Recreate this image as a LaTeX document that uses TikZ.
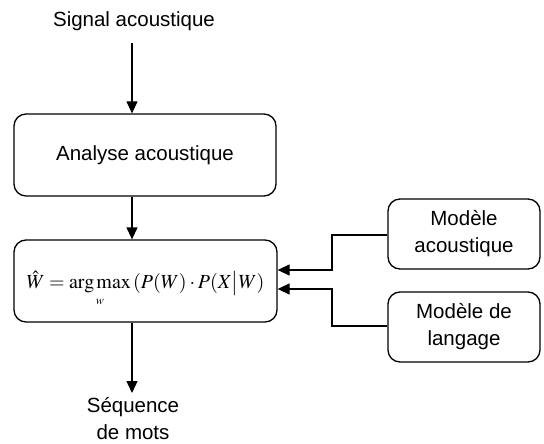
\documentclass[tikz,border=0pt]{standalone}
\usepackage{fontspec}
\usepackage{mathptmx}
\setmainfont{Liberation Sans}
\usetikzlibrary{arrows.meta}
\begin{document}
\begin{tikzpicture}[x=1pt,y=-1pt,
  every node/.style={font=\fontsize{20.5}{27}\selectfont, align=center, inner sep=0pt},
  box/.style={draw, line width=1.3pt, rounded corners=12pt},
  arr/.style={line width=1.3pt, -{Triangle[length=12pt,width=11pt]}}]
  \useasboundingbox (0,0) rectangle (544,444);
  % processing chain
  \node (sig) at (134,21) {Signal acoustique};
  \node[box, minimum width=262pt, minimum height=82pt] (ana) at (145,155) {Analyse acoustique};
  \node[box, minimum width=263pt, minimum height=82pt] (dec) at (145.5,281) {};
  \node[yshift=-8pt] (eq) at (dec.center)
    {\fontsize{20}{24}\selectfont $\hat{W} = \mathop{\mathrm{arg\,max}}\limits_{\scriptscriptstyle w}\,(P(W)\cdot P(X\bigl|W)$};
  \node (out) at (133,419) {Séquence\\de mots};
  % knowledge sources
  \node[box, minimum width=152pt, minimum height=70pt] (am) at (464,234) {Modèle\\acoustique};
  \node[box, minimum width=152pt, minimum height=70pt] (lm) at (464,327) {Modèle de\\langage};
  % connectors
  \coordinate (cx) at (132,0);
  \coordinate (ex) at (332,0);
  \draw[arr] (cx |- 0,43) -- (cx |- ana.north);
  \draw[arr] (cx |- ana.south) -- (cx |- dec.north);
  \draw[arr] (cx |- dec.south) -- (cx |- 0,393);
  \draw[arr] (am.west |- 0,235) -| (ex |- 0,270) -- (dec.east |- 0,270);
  \draw[arr] (lm.west |- 0,326) -| (ex |- 0,289) -- (dec.east |- 0,289);
\end{tikzpicture}
\end{document}
